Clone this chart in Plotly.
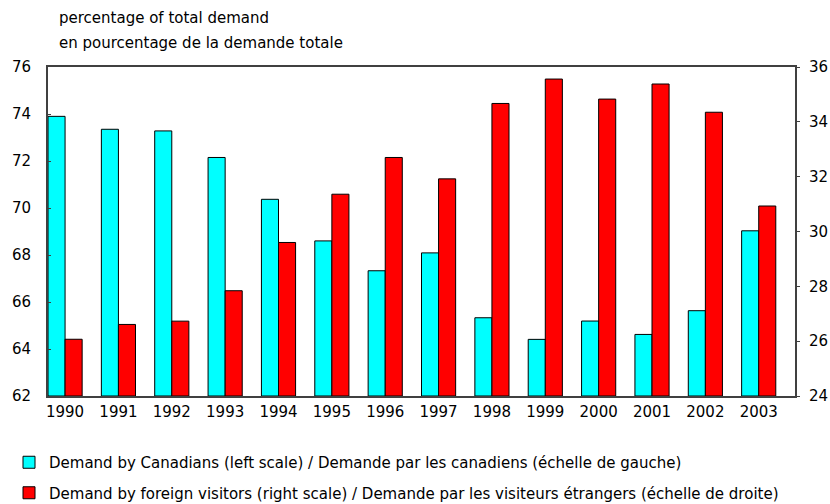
import plotly.graph_objects as go

years = ["1990", "1991", "1992", "1993", "1994", "1995", "1996",
         "1997", "1998", "1999", "2000", "2001", "2002", "2003"]
canadians = [73.9, 73.35, 73.28, 72.15, 70.37, 68.6, 67.33,
             68.09, 65.33, 64.41, 65.19, 64.62, 65.63, 69.03]
foreign = [26.07, 26.61, 26.73, 27.84, 29.6, 31.36, 32.7,
           31.92, 34.67, 35.56, 34.83, 35.38, 34.35, 30.93]
left_ticks = [62, 64, 66, 68, 70, 72, 74, 76]
right_ticks = [24, 26, 28, 30, 32, 34, 36]

xpos = list(range(len(years)))
W = 0.32
FONT = "DejaVu Sans, sans-serif"
FS = 15
FRAME = "#404040"
WIDTH, HEIGHT = 830, 504
ML, MR, MT, MB = 48, 35, 67, 108

fig = go.Figure()
fig.add_trace(go.Bar(
    x=xpos, y=[v - 62 for v in canadians], base=62,
    width=W, offset=-W,
    marker=dict(color="#00FFFF", line=dict(color="#000000", width=1)),
    name="Demand by Canadians (left scale) / Demande par les canadiens (échelle de gauche)",
    legendgroup="a", yaxis="y",
))
fig.add_trace(go.Bar(
    x=xpos, y=[v - 24 for v in foreign], base=24,
    width=W, offset=0,
    marker=dict(color="#FF0000", line=dict(color="#000000", width=1)),
    name="Demand by foreign visitors (right scale) / Demande par les visiteurs étrangers (échelle de droite)",
    legendgroup="b", yaxis="y2",
))

pw = WIDTH - ML - MR
ph = HEIGHT - MT - MB


def px_to_paper(x, y):
    return (x - ML) / pw, (HEIGHT - MB - y) / ph


t1x, t1y = px_to_paper(57, 18)
t2x, t2y = px_to_paper(57, 43)

fig.update_layout(
    width=WIDTH, height=HEIGHT,
    margin=dict(l=ML, r=MR, t=MT, b=MB, autoexpand=False),
    plot_bgcolor="white", paper_bgcolor="white",
    font=dict(family=FONT, size=FS, color="#000000"),
    showlegend=True,
    legend=dict(
        xref="container", yref="container",
        x=9 / WIDTH, y=1 - 446 / HEIGHT,
        xanchor="left", yanchor="top",
        orientation="v", tracegroupgap=8,
        font=dict(family=FONT, size=FS),
        itemwidth=30, bgcolor="rgba(0,0,0,0)",
    ),
    xaxis=dict(
        range=[-W, 13 + (1 - W)], tickmode="array", tickvals=xpos,
        ticktext=years, showgrid=False, zeroline=False, ticks="",
        showline=True, linecolor=FRAME, linewidth=2, mirror=True,
        tickfont=dict(size=FS), ticklabelstandoff=1,
    ),
    yaxis=dict(
        range=[62, 76], tickmode="array", tickvals=left_ticks,
        showgrid=False, zeroline=False, ticks="inside", ticklen=3,
        tickcolor=FRAME,
        showline=True, linecolor=FRAME, linewidth=2,
        tickfont=dict(size=FS), ticklabelstandoff=12,
    ),
    yaxis2=dict(
        range=[24, 36], tickmode="array", tickvals=right_ticks,
        overlaying="y", side="right",
        showgrid=False, zeroline=False, ticks="outside", ticklen=3,
        tickcolor=FRAME,
        showline=True, linecolor=FRAME, linewidth=2,
        tickfont=dict(size=FS), ticklabelstandoff=6,
    ),
    barmode="overlay",
    annotations=[
        dict(text="percentage of total demand", x=t1x, y=t1y, xref="paper",
             yref="paper", showarrow=False, xanchor="left", yanchor="middle",
             font=dict(size=FS)),
        dict(text="en pourcentage de la demande totale", x=t2x, y=t2y,
             xref="paper", yref="paper", showarrow=False, xanchor="left",
             yanchor="middle", font=dict(size=FS)),
    ],
)

fig.write_html(
    "out.html",
    config={"displayModeBar": False},
    post_script="document.body.style.margin='0';"
                "document.body.style.overflow='hidden';",
)
